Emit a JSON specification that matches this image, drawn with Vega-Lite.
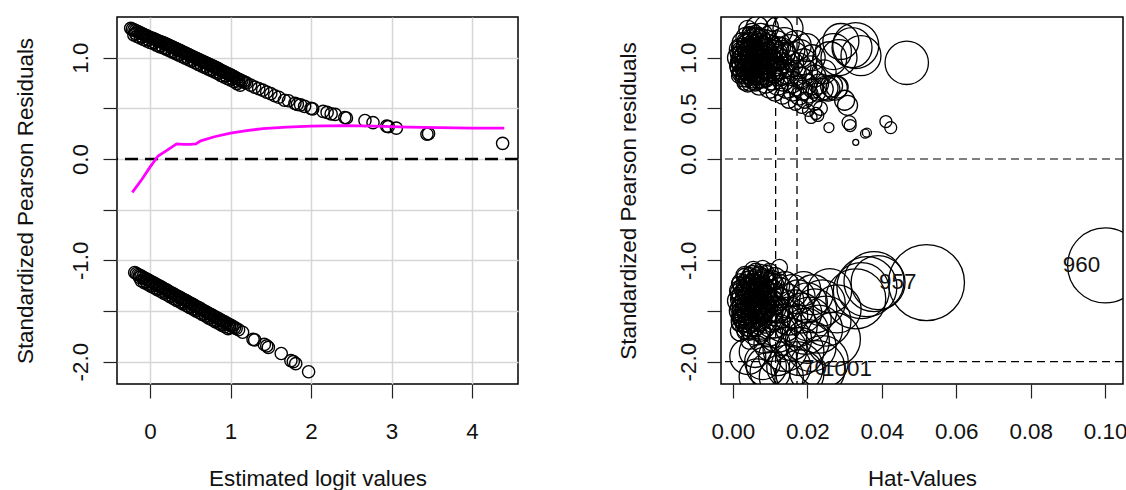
{
  "$schema": "https://vega.github.io/schema/vega-lite/v6.json",
  "padding": {"left": 13, "top": 15, "right": 0, "bottom": 0},
  "background": "white",
  "config": {
    "font": "Liberation Sans",
    "view": {"stroke": "black", "strokeWidth": 1.5},
    "axis": {
      "domain": false, "tickColor": "#222", "tickWidth": 1.2, "tickSize": 14,
      "labelFont": "Liberation Sans", "labelFontSize": 22.4, "labelColor": "#111",
      "titleFont": "Liberation Sans", "titleFontSize": 22.4, "titleFontWeight": "normal", "titleColor": "#111",
      "grid": false, "labelOverlap": false, "labelFlush": false
    }
  },
  "datasets": {
    "resid": [
      {"eta":-0.24,"r":1.29},{"eta":-0.20,"r":1.275},{"eta":-0.16,"r":1.26},{"eta":-0.12,"r":1.245},{"eta":-0.08,"r":1.23},{"eta":-0.04,"r":1.215},{"eta":0.00,"r":1.20},{"eta":0.04,"r":1.19},{"eta":0.08,"r":1.175},{"eta":0.12,"r":1.16},{"eta":0.16,"r":1.15},{"eta":0.20,"r":1.135},{"eta":0.24,"r":1.12},{"eta":0.28,"r":1.105},{"eta":0.32,"r":1.09},{"eta":0.36,"r":1.075},{"eta":0.40,"r":1.06},{"eta":0.44,"r":1.045},{"eta":0.48,"r":1.03},{"eta":0.52,"r":1.015},{"eta":0.56,"r":1.00},{"eta":0.60,"r":0.985},{"eta":0.64,"r":0.97},{"eta":0.68,"r":0.955},{"eta":0.72,"r":0.94},{"eta":0.76,"r":0.925},{"eta":0.80,"r":0.91},{"eta":0.84,"r":0.895},{"eta":0.88,"r":0.875},{"eta":0.92,"r":0.86},{"eta":0.96,"r":0.845},{"eta":1.00,"r":0.83},{"eta":1.04,"r":0.815},{"eta":1.08,"r":0.795},{"eta":1.12,"r":0.78},{"eta":1.16,"r":0.765},{"eta":1.20,"r":0.75},{"eta":1.25,"r":0.73},{"eta":1.30,"r":0.71},{"eta":1.35,"r":0.695},{"eta":1.40,"r":0.68},{"eta":1.45,"r":0.66},{"eta":1.50,"r":0.645},
      {"eta":-0.22,"r":1.282},{"eta":-0.18,"r":1.267},{"eta":-0.14,"r":1.252},{"eta":-0.10,"r":1.237},{"eta":-0.06,"r":1.222},{"eta":-0.02,"r":1.207},{"eta":0.02,"r":1.195},{"eta":0.06,"r":1.182},{"eta":0.10,"r":1.167},{"eta":0.14,"r":1.155},{"eta":0.18,"r":1.142},{"eta":0.22,"r":1.127},{"eta":0.26,"r":1.112},{"eta":0.30,"r":1.097},{"eta":0.34,"r":1.082},{"eta":0.38,"r":1.067},{"eta":0.42,"r":1.052},{"eta":0.46,"r":1.037},{"eta":0.50,"r":1.022},{"eta":0.54,"r":1.007},{"eta":0.58,"r":0.992},{"eta":0.62,"r":0.977},{"eta":0.66,"r":0.962},{"eta":0.70,"r":0.947},{"eta":0.74,"r":0.932},{"eta":0.78,"r":0.917},{"eta":0.82,"r":0.902},{"eta":0.86,"r":0.885},{"eta":0.90,"r":0.867},{"eta":0.94,"r":0.852},{"eta":0.98,"r":0.837},{"eta":1.02,"r":0.822},{"eta":1.06,"r":0.805},{"eta":1.10,"r":0.787},{"eta":1.14,"r":0.772},{"eta":1.18,"r":0.757},
      {"eta":-0.20,"r":1.225},{"eta":-0.16,"r":1.21},{"eta":-0.12,"r":1.195},{"eta":-0.08,"r":1.18},{"eta":-0.04,"r":1.165},{"eta":0.00,"r":1.15},{"eta":0.04,"r":1.14},{"eta":0.08,"r":1.125},{"eta":0.12,"r":1.11},{"eta":0.16,"r":1.10},{"eta":0.20,"r":1.085},{"eta":0.24,"r":1.07},{"eta":0.28,"r":1.055},{"eta":0.32,"r":1.04},{"eta":0.36,"r":1.025},{"eta":0.40,"r":1.01},{"eta":0.44,"r":0.995},{"eta":0.48,"r":0.98},{"eta":0.52,"r":0.965},{"eta":0.56,"r":0.95},{"eta":0.60,"r":0.935},{"eta":0.64,"r":0.92},{"eta":0.68,"r":0.905},{"eta":0.72,"r":0.89},{"eta":0.76,"r":0.875},{"eta":0.80,"r":0.86},{"eta":0.84,"r":0.845},{"eta":0.88,"r":0.825},{"eta":0.92,"r":0.81},{"eta":0.96,"r":0.795},{"eta":1.00,"r":0.78},{"eta":1.04,"r":0.765},{"eta":1.08,"r":0.745},{"eta":1.12,"r":0.73},
      {"eta":-0.18,"r":1.24},{"eta":-0.10,"r":1.21},{"eta":-0.02,"r":1.18},{"eta":0.06,"r":1.15},{"eta":0.14,"r":1.12},{"eta":0.22,"r":1.09},{"eta":0.30,"r":1.06},{"eta":0.38,"r":1.035},{"eta":0.46,"r":1.005},{"eta":0.54,"r":0.975},{"eta":0.62,"r":0.945},{"eta":0.70,"r":0.915},{"eta":0.78,"r":0.885},{"eta":0.86,"r":0.855},{"eta":0.94,"r":0.825},{"eta":1.02,"r":0.795},{"eta":1.10,"r":0.76},
      {"eta":1.55,"r":0.625},{"eta":1.60,"r":0.61},{"eta":1.67,"r":0.58},{"eta":1.72,"r":0.575},{"eta":1.80,"r":0.55},{"eta":1.83,"r":0.54},{"eta":1.87,"r":0.535},{"eta":1.92,"r":0.52},{"eta":2.00,"r":0.50},{"eta":2.02,"r":0.495},{"eta":2.15,"r":0.47},{"eta":2.20,"r":0.46},{"eta":2.25,"r":0.445},{"eta":2.30,"r":0.44},{"eta":2.42,"r":0.41},{"eta":2.44,"r":0.405},{"eta":2.67,"r":0.38},{"eta":2.77,"r":0.36},{"eta":2.94,"r":0.325},{"eta":2.96,"r":0.32},{"eta":3.06,"r":0.305},{"eta":3.44,"r":0.245},{"eta":3.46,"r":0.25},{"eta":4.38,"r":0.155},
      {"eta":-0.19,"r":-1.12},{"eta":-0.15,"r":-1.14},{"eta":-0.11,"r":-1.155},{"eta":-0.07,"r":-1.175},{"eta":-0.03,"r":-1.19},{"eta":0.01,"r":-1.21},{"eta":0.05,"r":-1.225},{"eta":0.09,"r":-1.245},{"eta":0.13,"r":-1.26},{"eta":0.17,"r":-1.28},{"eta":0.21,"r":-1.295},{"eta":0.25,"r":-1.315},{"eta":0.29,"r":-1.33},{"eta":0.33,"r":-1.35},{"eta":0.37,"r":-1.365},{"eta":0.41,"r":-1.385},{"eta":0.45,"r":-1.40},{"eta":0.49,"r":-1.42},{"eta":0.53,"r":-1.435},{"eta":0.57,"r":-1.455},{"eta":0.61,"r":-1.47},{"eta":0.65,"r":-1.49},{"eta":0.69,"r":-1.505},{"eta":0.73,"r":-1.525},{"eta":0.77,"r":-1.54},{"eta":0.81,"r":-1.56},{"eta":0.85,"r":-1.575},{"eta":0.89,"r":-1.595},{"eta":0.93,"r":-1.61},{"eta":0.97,"r":-1.63},{"eta":1.01,"r":-1.645},{"eta":1.05,"r":-1.665},{"eta":1.10,"r":-1.685},
      {"eta":-0.17,"r":-1.13},{"eta":-0.13,"r":-1.148},{"eta":-0.09,"r":-1.165},{"eta":-0.05,"r":-1.183},{"eta":-0.01,"r":-1.20},{"eta":0.03,"r":-1.218},{"eta":0.07,"r":-1.235},{"eta":0.11,"r":-1.253},{"eta":0.15,"r":-1.27},{"eta":0.19,"r":-1.288},{"eta":0.23,"r":-1.305},{"eta":0.27,"r":-1.323},{"eta":0.31,"r":-1.34},{"eta":0.35,"r":-1.358},{"eta":0.39,"r":-1.375},{"eta":0.43,"r":-1.393},{"eta":0.47,"r":-1.41},{"eta":0.51,"r":-1.428},{"eta":0.55,"r":-1.445},{"eta":0.59,"r":-1.463},{"eta":0.63,"r":-1.48},{"eta":0.67,"r":-1.498},{"eta":0.71,"r":-1.515},{"eta":0.75,"r":-1.533},{"eta":0.79,"r":-1.55},{"eta":0.83,"r":-1.568},{"eta":0.87,"r":-1.585},{"eta":0.91,"r":-1.603},{"eta":0.95,"r":-1.62},{"eta":0.99,"r":-1.638},{"eta":1.03,"r":-1.655},{"eta":1.07,"r":-1.673},
      {"eta":-0.11,"r":-1.20},{"eta":-0.07,"r":-1.22},{"eta":-0.03,"r":-1.235},{"eta":0.01,"r":-1.255},{"eta":0.05,"r":-1.27},{"eta":0.09,"r":-1.29},{"eta":0.13,"r":-1.305},{"eta":0.17,"r":-1.325},{"eta":0.21,"r":-1.34},{"eta":0.25,"r":-1.36},{"eta":0.29,"r":-1.375},{"eta":0.33,"r":-1.395},{"eta":0.37,"r":-1.41},{"eta":0.41,"r":-1.43},{"eta":0.45,"r":-1.445},{"eta":0.49,"r":-1.465},{"eta":0.53,"r":-1.48},{"eta":0.57,"r":-1.50},{"eta":0.61,"r":-1.515},{"eta":0.65,"r":-1.535},{"eta":0.69,"r":-1.55},{"eta":0.73,"r":-1.57},{"eta":0.77,"r":-1.585},{"eta":0.81,"r":-1.605},{"eta":0.85,"r":-1.62},{"eta":0.89,"r":-1.64},{"eta":0.93,"r":-1.655},{"eta":0.97,"r":-1.675},
      {"eta":-0.13,"r":-1.17},{"eta":-0.05,"r":-1.21},{"eta":0.03,"r":-1.245},{"eta":0.11,"r":-1.28},{"eta":0.19,"r":-1.315},{"eta":0.27,"r":-1.35},{"eta":0.35,"r":-1.385},{"eta":0.43,"r":-1.42},{"eta":0.51,"r":-1.455},{"eta":0.59,"r":-1.49},{"eta":0.67,"r":-1.525},{"eta":0.75,"r":-1.56},{"eta":0.83,"r":-1.595},{"eta":0.91,"r":-1.63},{"eta":0.99,"r":-1.665},
      {"eta":1.15,"r":-1.71},{"eta":1.28,"r":-1.78},{"eta":1.30,"r":-1.785},{"eta":1.42,"r":-1.83},{"eta":1.45,"r":-1.845},{"eta":1.47,"r":-1.86},{"eta":1.63,"r":-1.92},{"eta":1.75,"r":-1.99},{"eta":1.78,"r":-2.0},{"eta":1.81,"r":-2.02},{"eta":1.97,"r":-2.10}
    ],
    "smooth": [
      {"eta":-0.22,"r":-0.33},{"eta":-0.10,"r":-0.2},{"eta":0.0,"r":-0.08},{"eta":0.10,"r":0.03},{"eta":0.20,"r":0.08},{"eta":0.33,"r":0.15},{"eta":0.42,"r":0.145},{"eta":0.50,"r":0.145},{"eta":0.57,"r":0.15},{"eta":0.63,"r":0.18},{"eta":0.80,"r":0.22},{"eta":1.0,"r":0.255},{"eta":1.2,"r":0.28},{"eta":1.4,"r":0.30},{"eta":1.7,"r":0.315},{"eta":2.0,"r":0.325},{"eta":2.4,"r":0.33},{"eta":2.8,"r":0.325},{"eta":3.2,"r":0.315},{"eta":3.6,"r":0.31},{"eta":4.0,"r":0.305},{"eta":4.4,"r":0.305}
    ],
    "infl": [
      {"hat":0.0015,"r":0.82,"cook":0.00139},{"hat":0.0015,"r":0.89,"cook":0.00182},{"hat":0.0015,"r":0.96,"cook":0.00182},{"hat":0.0015,"r":1.03,"cook":0.00182},{"hat":0.0015,"r":1.10,"cook":0.00139},
      {"hat":0.0030,"r":0.75,"cook":0.00139},{"hat":0.0030,"r":0.82,"cook":0.00182},{"hat":0.0030,"r":0.89,"cook":0.00182},{"hat":0.0030,"r":0.96,"cook":0.0023},{"hat":0.0030,"r":1.03,"cook":0.0023},{"hat":0.0030,"r":1.10,"cook":0.00182},{"hat":0.0030,"r":1.17,"cook":0.00139},
      {"hat":0.0045,"r":0.75,"cook":0.00182},{"hat":0.0045,"r":0.82,"cook":0.00182},{"hat":0.0045,"r":0.89,"cook":0.0023},{"hat":0.0045,"r":0.96,"cook":0.0023},{"hat":0.0045,"r":1.03,"cook":0.0023},{"hat":0.0045,"r":1.10,"cook":0.0023},{"hat":0.0045,"r":1.17,"cook":0.00182},{"hat":0.0045,"r":1.24,"cook":0.00139},
      {"hat":0.0060,"r":0.75,"cook":0.00182},{"hat":0.0060,"r":0.82,"cook":0.0023},{"hat":0.0060,"r":0.89,"cook":0.0023},{"hat":0.0060,"r":0.96,"cook":0.0023},{"hat":0.0060,"r":1.03,"cook":0.0023},{"hat":0.0060,"r":1.10,"cook":0.0023},{"hat":0.0060,"r":1.17,"cook":0.0023},{"hat":0.0060,"r":1.24,"cook":0.00182},
      {"hat":0.0075,"r":0.78,"cook":0.00182},{"hat":0.0075,"r":0.85,"cook":0.0023},{"hat":0.0075,"r":0.92,"cook":0.0023},{"hat":0.0075,"r":0.99,"cook":0.0023},{"hat":0.0075,"r":1.06,"cook":0.0023},{"hat":0.0075,"r":1.13,"cook":0.0023},{"hat":0.0075,"r":1.20,"cook":0.0023},
      {"hat":0.0090,"r":0.80,"cook":0.0023},{"hat":0.0090,"r":0.87,"cook":0.0023},{"hat":0.0090,"r":0.94,"cook":0.00284},{"hat":0.0090,"r":1.01,"cook":0.00284},{"hat":0.0090,"r":1.08,"cook":0.00284},{"hat":0.0090,"r":1.15,"cook":0.0023},
      {"hat":0.0105,"r":0.87,"cook":0.00284},{"hat":0.0105,"r":0.97,"cook":0.00344},{"hat":0.0105,"r":1.07,"cook":0.00344},{"hat":0.0120,"r":0.90,"cook":0.00344},{"hat":0.0120,"r":1.00,"cook":0.00344},{"hat":0.0120,"r":1.10,"cook":0.00344},{"hat":0.0065,"r":1.30,"cook":0.00344},{"hat":0.0090,"r":1.30,"cook":0.0041},{"hat":0.0040,"r":1.28,"cook":0.0023},{"hat":0.0135,"r":0.85,"cook":0.0041},{"hat":0.0135,"r":1.05,"cook":0.0041},
      {"hat":0.0022,"r":0.86,"cook":0.00182},{"hat":0.0022,"r":0.93,"cook":0.0023},{"hat":0.0022,"r":1.00,"cook":0.0023},{"hat":0.0022,"r":1.07,"cook":0.0023},{"hat":0.0037,"r":0.79,"cook":0.00182},{"hat":0.0037,"r":0.86,"cook":0.0023},{"hat":0.0037,"r":0.93,"cook":0.0023},{"hat":0.0037,"r":1.00,"cook":0.0023},{"hat":0.0037,"r":1.07,"cook":0.0023},{"hat":0.0037,"r":1.14,"cook":0.0023},{"hat":0.0052,"r":0.79,"cook":0.0023},{"hat":0.0052,"r":0.86,"cook":0.0023},{"hat":0.0052,"r":0.93,"cook":0.00284},{"hat":0.0052,"r":1.00,"cook":0.00284},{"hat":0.0052,"r":1.07,"cook":0.00284},{"hat":0.0052,"r":1.14,"cook":0.0023},{"hat":0.0052,"r":1.21,"cook":0.0023},{"hat":0.0067,"r":0.79,"cook":0.0023},{"hat":0.0067,"r":0.86,"cook":0.00284},{"hat":0.0067,"r":0.93,"cook":0.00284},{"hat":0.0067,"r":1.00,"cook":0.00284},{"hat":0.0067,"r":1.07,"cook":0.00284},{"hat":0.0067,"r":1.14,"cook":0.00284},{"hat":0.0067,"r":1.21,"cook":0.0023},{"hat":0.0082,"r":0.83,"cook":0.00284},{"hat":0.0082,"r":0.90,"cook":0.00284},{"hat":0.0082,"r":0.97,"cook":0.00344},{"hat":0.0082,"r":1.04,"cook":0.00344},{"hat":0.0082,"r":1.11,"cook":0.00284},
      {"hat":0.0015,"r":1.00,"cook":0.00344},{"hat":0.0018,"r":0.92,"cook":0.00284},{"hat":0.0020,"r":1.08,"cook":0.00344},{"hat":0.0022,"r":0.85,"cook":0.0023},{"hat":0.0025,"r":1.15,"cook":0.00284},{"hat":0.0028,"r":0.97,"cook":0.0041},{"hat":0.0030,"r":0.80,"cook":0.0023},{"hat":0.0032,"r":1.04,"cook":0.0041},{"hat":0.0035,"r":1.20,"cook":0.00284},{"hat":0.0038,"r":0.90,"cook":0.0041},{"hat":0.0040,"r":0.75,"cook":0.0023},{"hat":0.0042,"r":1.12,"cook":0.0041},{"hat":0.0045,"r":0.98,"cook":0.0048},{"hat":0.0048,"r":0.84,"cook":0.00344},{"hat":0.0050,"r":1.06,"cook":0.0048},{"hat":0.0052,"r":1.24,"cook":0.00284},{"hat":0.0055,"r":0.93,"cook":0.0048},{"hat":0.0058,"r":0.78,"cook":0.00284},{"hat":0.0060,"r":1.16,"cook":0.0048},{"hat":0.0062,"r":1.01,"cook":0.00557},{"hat":0.0065,"r":0.87,"cook":0.0041},{"hat":0.0068,"r":1.10,"cook":0.00557},{"hat":0.0070,"r":0.72,"cook":0.0023},{"hat":0.0072,"r":0.96,"cook":0.00557},{"hat":0.0075,"r":1.22,"cook":0.0041},{"hat":0.0078,"r":0.82,"cook":0.0041},{"hat":0.0080,"r":1.04,"cook":0.0064},{"hat":0.0083,"r":0.91,"cook":0.0048},{"hat":0.0085,"r":1.14,"cook":0.00557},{"hat":0.0088,"r":0.76,"cook":0.00344},{"hat":0.0090,"r":0.99,"cook":0.0064},{"hat":0.0093,"r":0.86,"cook":0.0048},{"hat":0.0095,"r":1.08,"cook":0.0064},{"hat":0.0098,"r":0.70,"cook":0.00284},{"hat":0.0100,"r":0.94,"cook":0.00557},{"hat":0.0103,"r":1.18,"cook":0.00557},{"hat":0.0105,"r":0.80,"cook":0.0041},{"hat":0.0108,"r":1.02,"cook":0.0064},{"hat":0.0110,"r":0.88,"cook":0.0048},{"hat":0.0113,"r":0.66,"cook":0.0023},{"hat":0.0115,"r":1.12,"cook":0.0064},{"hat":0.0118,"r":0.96,"cook":0.00557},{"hat":0.0120,"r":0.74,"cook":0.00344},{"hat":0.0123,"r":1.27,"cook":0.00557},{"hat":0.0125,"r":0.84,"cook":0.0041},{"hat":0.0128,"r":1.05,"cook":0.0064},{"hat":0.0130,"r":0.92,"cook":0.0048},{"hat":0.0133,"r":0.62,"cook":0.00182},{"hat":0.0135,"r":0.78,"cook":0.00344},{"hat":0.0138,"r":1.15,"cook":0.0064},{"hat":0.0140,"r":0.99,"cook":0.00557},{"hat":0.0143,"r":0.70,"cook":0.00284},{"hat":0.0145,"r":0.86,"cook":0.0041},{"hat":0.0148,"r":1.29,"cook":0.0064},{"hat":0.0150,"r":0.58,"cook":0.00182},{"hat":0.0153,"r":1.08,"cook":0.0064},{"hat":0.0155,"r":0.94,"cook":0.0048},{"hat":0.0158,"r":0.76,"cook":0.00344},{"hat":0.0160,"r":0.66,"cook":0.0023},{"hat":0.0163,"r":1.02,"cook":0.00557},{"hat":0.0165,"r":0.84,"cook":0.0041},{"hat":0.0168,"r":0.55,"cook":0.00139},{"hat":0.0170,"r":1.12,"cook":0.0064},{"hat":0.0173,"r":0.72,"cook":0.00284},{"hat":0.0175,"r":0.92,"cook":0.0048},{"hat":0.0178,"r":0.62,"cook":0.0023},{"hat":0.0180,"r":1.04,"cook":0.00557},{"hat":0.0183,"r":0.80,"cook":0.00344},{"hat":0.0185,"r":0.52,"cook":0.00139},{"hat":0.0188,"r":0.68,"cook":0.00284},{"hat":0.0190,"r":0.96,"cook":0.0048},{"hat":0.0193,"r":0.58,"cook":0.00182},{"hat":0.0195,"r":0.86,"cook":0.0041},{"hat":0.0198,"r":1.10,"cook":0.00557},{"hat":0.0200,"r":0.74,"cook":0.00284},{"hat":0.0203,"r":0.48,"cook":0.00102},{"hat":0.0205,"r":0.64,"cook":0.0023},{"hat":0.0208,"r":0.90,"cook":0.0041},{"hat":0.0210,"r":0.41,"cook":0.00102},{"hat":0.0213,"r":1.00,"cook":0.0048},{"hat":0.0215,"r":0.70,"cook":0.00284},{"hat":0.0218,"r":0.56,"cook":0.00182},{"hat":0.0220,"r":0.82,"cook":0.00344},{"hat":0.0223,"r":0.45,"cook":0.00102},{"hat":0.0226,"r":0.66,"cook":0.0023},{"hat":0.0228,"r":0.43,"cook":0.00102},{"hat":0.0230,"r":0.74,"cook":0.00284},{"hat":0.0235,"r":0.50,"cook":0.00139},{"hat":0.0240,"r":0.69,"cook":0.00344},{"hat":0.0245,"r":0.86,"cook":0.0041},{"hat":0.0250,"r":0.70,"cook":0.0041},{"hat":0.0255,"r":0.69,"cook":0.0041},{"hat":0.0258,"r":0.31,"cook":0.00071},{"hat":0.0260,"r":0.99,"cook":0.00822},{"hat":0.0265,"r":0.72,"cook":0.00344},{"hat":0.0270,"r":1.06,"cook":0.00922},{"hat":0.0275,"r":0.70,"cook":0.0041},{"hat":0.0280,"r":0.71,"cook":0.00344},{"hat":0.0285,"r":1.00,"cook":0.00922},{"hat":0.0290,"r":1.16,"cook":0.00922},{"hat":0.0300,"r":0.58,"cook":0.00284},{"hat":0.0308,"r":0.53,"cook":0.00284},{"hat":0.0312,"r":0.36,"cook":0.00139},{"hat":0.0315,"r":0.33,"cook":0.00102},{"hat":0.0320,"r":1.10,"cook":0.01138},{"hat":0.0330,"r":1.12,"cook":0.01505},{"hat":0.0330,"r":0.165,"cook":0.000256},{"hat":0.0344,"r":1.02,"cook":0.01138},{"hat":0.0355,"r":0.25,"cook":0.000576},{"hat":0.0360,"r":0.26,"cook":0.000576},{"hat":0.0411,"r":0.37,"cook":0.00102},{"hat":0.0424,"r":0.31,"cook":0.00102},{"hat":0.0467,"r":0.95,"cook":0.0134},
      {"hat":0.0015,"r":-1.23,"cook":0.00139},{"hat":0.0015,"r":-1.31,"cook":0.00182},{"hat":0.0015,"r":-1.39,"cook":0.00182},{"hat":0.0015,"r":-1.47,"cook":0.00182},{"hat":0.0015,"r":-1.55,"cook":0.00139},{"hat":0.0015,"r":-1.63,"cook":0.00139},
      {"hat":0.0030,"r":-1.15,"cook":0.00139},{"hat":0.0030,"r":-1.23,"cook":0.00182},{"hat":0.0030,"r":-1.31,"cook":0.0023},{"hat":0.0030,"r":-1.39,"cook":0.0023},{"hat":0.0030,"r":-1.47,"cook":0.0023},{"hat":0.0030,"r":-1.55,"cook":0.0023},{"hat":0.0030,"r":-1.63,"cook":0.00182},{"hat":0.0030,"r":-1.71,"cook":0.00139},
      {"hat":0.0045,"r":-1.15,"cook":0.00182},{"hat":0.0045,"r":-1.23,"cook":0.0023},{"hat":0.0045,"r":-1.31,"cook":0.0023},{"hat":0.0045,"r":-1.39,"cook":0.0023},{"hat":0.0045,"r":-1.47,"cook":0.0023},{"hat":0.0045,"r":-1.55,"cook":0.0023},{"hat":0.0045,"r":-1.63,"cook":0.0023},{"hat":0.0045,"r":-1.71,"cook":0.00182},
      {"hat":0.0060,"r":-1.10,"cook":0.00139},{"hat":0.0060,"r":-1.18,"cook":0.0023},{"hat":0.0060,"r":-1.26,"cook":0.0023},{"hat":0.0060,"r":-1.34,"cook":0.00284},{"hat":0.0060,"r":-1.42,"cook":0.00284},{"hat":0.0060,"r":-1.50,"cook":0.00284},{"hat":0.0060,"r":-1.58,"cook":0.00284},{"hat":0.0060,"r":-1.66,"cook":0.0023},
      {"hat":0.0075,"r":-1.12,"cook":0.00182},{"hat":0.0075,"r":-1.20,"cook":0.0023},{"hat":0.0075,"r":-1.28,"cook":0.00284},{"hat":0.0075,"r":-1.36,"cook":0.00284},{"hat":0.0075,"r":-1.44,"cook":0.00284},{"hat":0.0075,"r":-1.52,"cook":0.00284},{"hat":0.0075,"r":-1.60,"cook":0.00284},
      {"hat":0.0090,"r":-1.14,"cook":0.0023},{"hat":0.0090,"r":-1.22,"cook":0.00284},{"hat":0.0090,"r":-1.30,"cook":0.00284},{"hat":0.0090,"r":-1.38,"cook":0.00344},{"hat":0.0090,"r":-1.46,"cook":0.00344},{"hat":0.0090,"r":-1.54,"cook":0.00284},
      {"hat":0.0105,"r":-1.20,"cook":0.00284},{"hat":0.0105,"r":-1.30,"cook":0.00344},{"hat":0.0105,"r":-1.40,"cook":0.00344},{"hat":0.0105,"r":-1.50,"cook":0.00344},{"hat":0.0105,"r":-1.60,"cook":0.00344},{"hat":0.0120,"r":-1.25,"cook":0.0041},{"hat":0.0120,"r":-1.38,"cook":0.0041},{"hat":0.0120,"r":-1.50,"cook":0.0041},{"hat":0.0045,"r":-1.79,"cook":0.0023},{"hat":0.0075,"r":-1.70,"cook":0.00284},{"hat":0.0020,"r":-1.70,"cook":0.00284},
      {"hat":0.0022,"r":-1.27,"cook":0.00182},{"hat":0.0022,"r":-1.35,"cook":0.0023},{"hat":0.0022,"r":-1.43,"cook":0.0023},{"hat":0.0022,"r":-1.51,"cook":0.0023},{"hat":0.0022,"r":-1.59,"cook":0.00182},{"hat":0.0037,"r":-1.19,"cook":0.00182},{"hat":0.0037,"r":-1.27,"cook":0.0023},{"hat":0.0037,"r":-1.35,"cook":0.0023},{"hat":0.0037,"r":-1.43,"cook":0.0023},{"hat":0.0037,"r":-1.51,"cook":0.0023},{"hat":0.0037,"r":-1.59,"cook":0.0023},{"hat":0.0037,"r":-1.67,"cook":0.00182},{"hat":0.0052,"r":-1.14,"cook":0.0023},{"hat":0.0052,"r":-1.22,"cook":0.0023},{"hat":0.0052,"r":-1.30,"cook":0.00284},{"hat":0.0052,"r":-1.38,"cook":0.00284},{"hat":0.0052,"r":-1.46,"cook":0.00284},{"hat":0.0052,"r":-1.54,"cook":0.00284},{"hat":0.0052,"r":-1.62,"cook":0.0023},{"hat":0.0067,"r":-1.16,"cook":0.0023},{"hat":0.0067,"r":-1.24,"cook":0.00284},{"hat":0.0067,"r":-1.32,"cook":0.00284},{"hat":0.0067,"r":-1.40,"cook":0.00284},{"hat":0.0067,"r":-1.48,"cook":0.00284},{"hat":0.0067,"r":-1.56,"cook":0.00284},{"hat":0.0082,"r":-1.18,"cook":0.00284},{"hat":0.0082,"r":-1.26,"cook":0.00284},{"hat":0.0082,"r":-1.34,"cook":0.00344},{"hat":0.0082,"r":-1.42,"cook":0.00344},{"hat":0.0082,"r":-1.50,"cook":0.00344},
      {"hat":0.0015,"r":-1.40,"cook":0.00344},{"hat":0.0018,"r":-1.30,"cook":0.00284},{"hat":0.0020,"r":-1.50,"cook":0.00344},{"hat":0.0022,"r":-1.22,"cook":0.0023},{"hat":0.0025,"r":-1.60,"cook":0.00344},{"hat":0.0028,"r":-1.36,"cook":0.0041},{"hat":0.0030,"r":-1.45,"cook":0.0041},{"hat":0.0032,"r":-1.15,"cook":0.0023},{"hat":0.0035,"r":-1.55,"cook":0.0048},{"hat":0.0038,"r":-1.28,"cook":0.00344},{"hat":0.0040,"r":-1.66,"cook":0.0041},{"hat":0.0042,"r":-1.40,"cook":0.0048},{"hat":0.0045,"r":-1.20,"cook":0.00284},{"hat":0.0048,"r":-1.50,"cook":0.00557},{"hat":0.0050,"r":-1.33,"cook":0.0048},{"hat":0.0052,"r":-1.62,"cook":0.00557},{"hat":0.0055,"r":-1.10,"cook":0.0023},{"hat":0.0058,"r":-1.44,"cook":0.00557},{"hat":0.0060,"r":-1.26,"cook":0.0041},{"hat":0.0062,"r":-1.70,"cook":0.00557},{"hat":0.0065,"r":-1.55,"cook":0.0064},{"hat":0.0068,"r":-1.36,"cook":0.00557},{"hat":0.0070,"r":-1.16,"cook":0.00284},{"hat":0.0072,"r":-1.48,"cook":0.0064},{"hat":0.0075,"r":-1.62,"cook":0.00728},{"hat":0.0078,"r":-1.30,"cook":0.0048},{"hat":0.0080,"r":-1.08,"cook":0.00182},{"hat":0.0083,"r":-1.42,"cook":0.0064},{"hat":0.0085,"r":-1.75,"cook":0.00822},{"hat":0.0088,"r":-1.22,"cook":0.0041},{"hat":0.0090,"r":-1.56,"cook":0.00728},{"hat":0.0093,"r":-1.35,"cook":0.00557},{"hat":0.0095,"r":-1.68,"cook":0.00822},{"hat":0.0098,"r":-1.12,"cook":0.0023},{"hat":0.0100,"r":-1.46,"cook":0.00728},{"hat":0.0103,"r":-1.26,"cook":0.0048},{"hat":0.0105,"r":-1.82,"cook":0.00922},{"hat":0.0108,"r":-1.60,"cook":0.00822},{"hat":0.0110,"r":-1.38,"cook":0.0064},{"hat":0.0113,"r":-1.18,"cook":0.00344},{"hat":0.0115,"r":-1.52,"cook":0.00822},{"hat":0.0120,"r":-1.72,"cook":0.01027},{"hat":0.0125,"r":-1.07,"cook":0.00182},{"hat":0.0125,"r":-1.32,"cook":0.0064},{"hat":0.0130,"r":-1.45,"cook":0.00822},{"hat":0.0135,"r":-1.62,"cook":0.01027},{"hat":0.0140,"r":-1.88,"cook":0.01377},{"hat":0.0140,"r":-1.25,"cook":0.00557},{"hat":0.0145,"r":-1.40,"cook":0.00822},{"hat":0.0150,"r":-1.55,"cook":0.01027},{"hat":0.0155,"r":-1.78,"cook":0.01254},{"hat":0.0160,"r":-1.30,"cook":0.00728},{"hat":0.0165,"r":-1.48,"cook":0.01027},{"hat":0.0170,"r":-1.65,"cook":0.01254},{"hat":0.0172,"r":-2.06,"cook":0.01923,"id":"70"},{"hat":0.0175,"r":-1.36,"cook":0.00822},{"hat":0.0180,"r":-1.90,"cook":0.01638},{"hat":0.0185,"r":-1.52,"cook":0.01138},{"hat":0.0190,"r":-1.28,"cook":0.00822},{"hat":0.0195,"r":-1.70,"cook":0.01505},{"hat":0.0200,"r":-1.42,"cook":0.01138},{"hat":0.0205,"r":-1.58,"cook":0.01377},{"hat":0.0210,"r":-1.85,"cook":0.01778},{"hat":0.0215,"r":-1.34,"cook":0.01138},{"hat":0.0220,"r":-1.50,"cook":0.01377},{"hat":0.0226,"r":-2.07,"cook":0.0223,"id":"1001"},{"hat":0.0230,"r":-1.68,"cook":0.01638},{"hat":0.0240,"r":-1.42,"cook":0.01505},{"hat":0.0250,"r":-1.60,"cook":0.01778},{"hat":0.0260,"r":-1.30,"cook":0.01377},{"hat":0.0270,"r":-1.78,"cook":0.02074},{"hat":0.0280,"r":-1.48,"cook":0.01638},
      {"hat":0.0060,"r":-1.90,"cook":0.00728},{"hat":0.0080,"r":-2.00,"cook":0.00922},{"hat":0.0100,"r":-2.10,"cook":0.01138},{"hat":0.0120,"r":-1.95,"cook":0.01027},{"hat":0.0065,"r":-2.15,"cook":0.00922},{"hat":0.0150,"r":-2.05,"cook":0.01377},
      {"hat":0.0040,"r":-1.95,"cook":0.00922},{"hat":0.0090,"r":-2.05,"cook":0.01138},{"hat":0.0130,"r":-2.15,"cook":0.01377},{"hat":0.0180,"r":-2.12,"cook":0.01638},{"hat":0.0240,"r":-2.00,"cook":0.01923},{"hat":0.0200,"r":-1.80,"cook":0.01377},
      {"hat":0.0330,"r":-1.38,"cook":0.0256},{"hat":0.0345,"r":-1.30,"cook":0.0223},{"hat":0.0360,"r":-1.26,"cook":0.0256},{"hat":0.0379,"r":-1.21,"cook":0.0256,"id":"957"},{"hat":0.0390,"r":-1.22,"cook":0.02074},{"hat":0.0520,"r":-1.22,"cook":0.0411},{"hat":0.1000,"r":-1.05,"cook":0.04,"id":"960"}
    ]
  },
  "hconcat": [
    {
      "width": 401, "height": 367,
      "layer": [
        {
          "data": {"name": "resid"},
          "mark": {"type": "point", "shape": "circle", "filled": false, "color": "black", "size": 150, "strokeWidth": 1.4, "opacity": 1},
          "encoding": {
            "x": {"field": "eta", "type": "quantitative",
              "scale": {"domain": [-0.41, 4.571], "nice": false, "zero": false},
              "axis": {"title": "Estimated logit values", "values": [0, 1, 2, 3, 4], "format": "d",
                "grid": true, "gridColor": "#d6d6d6", "gridWidth": 1.5,
                "labelBaseline": "top", "labelPadding": 22, "titleBaseline": "top", "titleY": 83}},
            "y": {"field": "r", "type": "quantitative",
              "scale": {"domain": [-2.221, 1.402], "nice": false, "zero": false},
              "axis": {"title": "Standardized Pearson Residuals", "values": [-2, -1.5, -1, -0.5, 0, 0.5, 1],
                "labelExpr": "datum.value % 1 == 0 ? replace(format(datum.value, '.1f'), '\u2212', '-') : ''",
                "grid": true, "gridColor": "#d6d6d6", "gridWidth": 1.5,
                "labelAngle": 270, "labelAlign": "center", "labelBaseline": "alphabetic", "labelPadding": 16,
                "titleAngle": 270, "titleAlign": "center", "titleBaseline": "alphabetic", "titleX": -85, "titleY": 183.5}}
          }
        },
        {
          "data": {"values": [{}]},
          "mark": {"type": "rule", "color": "black", "strokeWidth": 2.5, "strokeDash": [13, 7]},
          "encoding": {"y": {"datum": 0}}
        },
        {
          "data": {"name": "smooth"},
          "mark": {"type": "line", "color": "#ff00ff", "strokeWidth": 2.8},
          "encoding": {
            "x": {"field": "eta", "type": "quantitative"},
            "y": {"field": "r", "type": "quantitative"}
          }
        }
      ]
    },
    {
      "width": 402, "height": 367,
      "layer": [
        {
          "data": {"values": [{}]},
          "mark": {"type": "rule", "color": "black", "strokeWidth": 1.3, "strokeDash": [8, 5]},
          "encoding": {"x": {"datum": 0.01148, "type": "quantitative"}}
        },
        {
          "data": {"values": [{}]},
          "mark": {"type": "rule", "color": "black", "strokeWidth": 1.3, "strokeDash": [8, 5]},
          "encoding": {"x": {"datum": 0.01722, "type": "quantitative"}}
        },
        {
          "data": {"values": [{}]},
          "mark": {"type": "rule", "color": "#555", "strokeWidth": 1.6, "strokeDash": [8, 5]},
          "encoding": {"y": {"datum": 0, "type": "quantitative"}}
        },
        {
          "data": {"values": [{}]},
          "mark": {"type": "rule", "color": "black", "strokeWidth": 1.3, "strokeDash": [8, 5]},
          "encoding": {"y": {"datum": -2, "type": "quantitative"}}
        },
        {
          "data": {"name": "infl"},
          "mark": {"type": "point", "shape": "circle", "filled": false, "color": "black", "strokeWidth": 1.3, "opacity": 1, "clip": true},
          "encoding": {
            "x": {"field": "hat", "type": "quantitative",
              "scale": {"domain": [-0.0032, 0.1048], "nice": false, "zero": false},
              "axis": {"title": "Hat-Values", "values": [0, 0.02, 0.04, 0.06, 0.08, 0.1], "format": ".2f",
                "labelBaseline": "top", "labelPadding": 22, "titleBaseline": "top", "titleY": 83}},
            "y": {"field": "r", "type": "quantitative",
              "scale": {"domain": [-2.221, 1.402], "nice": false, "zero": false},
              "axis": {"title": "Standardized Pearson residuals", "values": [-2, -1.5, -1, -0.5, 0, 0.5, 1],
                "labelExpr": "datum.value == -0.5 || datum.value == -1.5 ? '' : replace(format(datum.value, '.1f'), '\u2212', '-')",
                "labelAngle": 270, "labelAlign": "center", "labelBaseline": "alphabetic", "labelPadding": 12,
                "titleAngle": 270, "titleAlign": "center", "titleBaseline": "alphabetic", "titleX": -86, "titleY": 183.5}},
            "size": {"field": "cook", "type": "quantitative", "scale": {"type": "linear", "domain": [0, 0.04], "range": [0, 5625]}, "legend": null}
          }
        },
        {
          "data": {"name": "infl"},
          "transform": [{"filter": "datum.id == '960'"}],
          "mark": {"type": "text", "align": "right", "dx": -5, "baseline": "middle", "fontSize": 22.4, "font": "Liberation Sans", "color": "#111"},
          "encoding": {
            "x": {"field": "hat", "type": "quantitative"},
            "y": {"field": "r", "type": "quantitative"},
            "text": {"field": "id"}
          }
        },
        {
          "data": {"name": "infl"},
          "transform": [{"filter": "isValid(datum.id) && datum.id != '960'"}],
          "mark": {"type": "text", "align": "left", "dx": 5, "baseline": "middle", "fontSize": 22.4, "font": "Liberation Sans", "color": "#111"},
          "encoding": {
            "x": {"field": "hat", "type": "quantitative"},
            "y": {"field": "r", "type": "quantitative"},
            "text": {"field": "id"}
          }
        }
      ]
    }
  ],
  "spacing": 203,
  "bounds": "flush"
}
